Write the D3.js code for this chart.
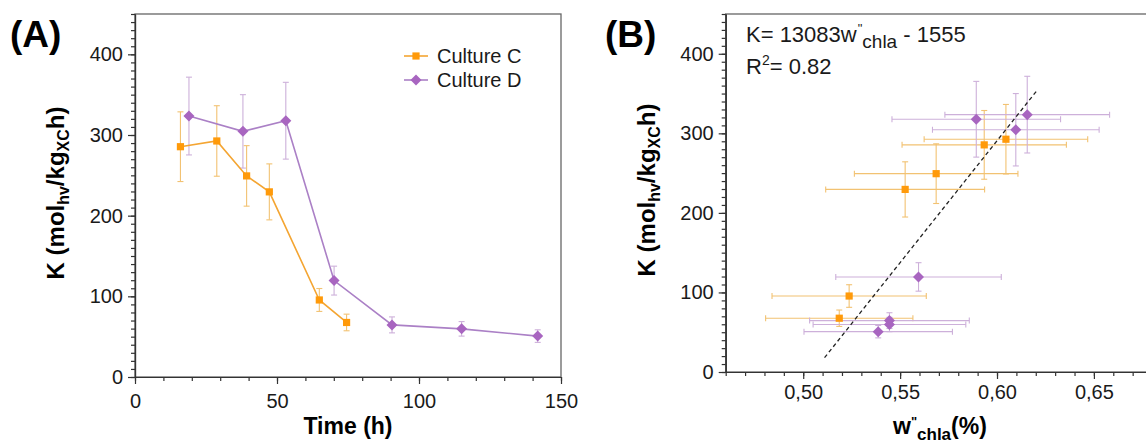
<!DOCTYPE html>
<html>
<head>
<meta charset="utf-8">
<script src="https://cdn.jsdelivr.net/npm/d3@7"></script>
<style>
  html, body { margin: 0; padding: 0; background: #fff; }
  svg { display: block; font-family: "Liberation Sans", Arial, Helvetica, sans-serif; }
</style>
</head>
<body>
<svg id="chart" width="1146" height="444"></svg>
<script>
// ---------------- DATA ----------------
// Panel A: K vs time
const timeC = [16.0, 28.8, 39.3, 47.3, 64.9, 74.5];
const kC    = [285.5, 292.6, 249.3, 229.5, 95.5, 67.6];
const kErrC = [43.2, 43.7, 37.5, 34.7, 14.2, 10.3];

const timeD = [19.0, 38.0, 53.1, 70.1, 90.5, 115.0, 141.8];
const kD    = [323.5, 304.5, 317.7, 119.5, 64.6, 59.7, 50.7];
const kErrD = [48.2, 45.5, 47.6, 17.9, 9.9, 9.0, 7.8];

// Panel B: K vs w''chla (%)
const wC    = [0.5934, 0.6046, 0.5686, 0.5526, 0.5237, 0.5186];
const wErrC = [0.0424, 0.0422, 0.0422, 0.0410, 0.0398, 0.0380];
const wD    = [0.6156, 0.6097, 0.5893, 0.5595, 0.5445, 0.5445, 0.5387];
const wErrD = [0.0425, 0.0430, 0.0435, 0.0427, 0.0412, 0.0394, 0.0383];

// Linear fit line endpoints
const fitW = [0.511, 0.621];
const fitK = [18, 355];

const seriesNames = ["Culture C", "Culture D"];
const xTicksA = [0, 50, 100, 150];
const yTicks  = [0, 100, 200, 300, 400];
const xTicksB = [0.50, 0.55, 0.60, 0.65];

// ---------------- STYLE ----------------
const colC = { marker: "#ff9a0a", line: "#f4a532", err: "#f2c272" };
const colD = { marker: "#a865c0", line: "#ab80c6", err: "#cdb0da" };
const axisColor = "#333";
const frameColor = "#666";

const svg = d3.select("#chart");

function drawAxes(g, x, y, xMajor, xMinor, yMinor, fmt, xPad) {
  const [x0, x1] = x.range();
  const [y0, y1] = y.range();
  g.append("rect").attr("x", x0).attr("y", y1).attr("width", x1 - x0).attr("height", y0 - y1)
    .attr("fill", "none").attr("stroke", frameColor).attr("stroke-width", 1.3);
  const xm = g.append("g").attr("transform", `translate(0,${y0})`)
    .call(d3.axisBottom(x).tickValues(xMinor).tickSize(4).tickSizeOuter(0).tickFormat(""));
  const ym = g.append("g").attr("transform", `translate(${x0},0)`)
    .call(d3.axisLeft(y).tickValues(yMinor).tickSize(4).tickSizeOuter(0).tickFormat(""));
  const xa = g.append("g").attr("transform", `translate(0,${y0})`)
    .call(d3.axisBottom(x).tickValues(xMajor).tickSize(7).tickSizeOuter(0).tickPadding(xPad).tickFormat(fmt));
  const ya = g.append("g").attr("transform", `translate(${x0},0)`)
    .call(d3.axisLeft(y).tickValues(yTicks).tickSize(7).tickSizeOuter(0).tickPadding(5));
  [xm, ym, xa, ya].forEach(a => {
    a.selectAll("path,line").attr("stroke", axisColor).attr("stroke-width", 1.2);
    a.selectAll("text").attr("fill", "#1a1a1a").style("font-size", "20px");
  });
}

const diamond = s => `M0,${-s}L${s},0L0,${s}L${-s},0Z`;
const square = s => `M${-s},${-s}H${s}V${s}H${-s}Z`;

function errY(g, xs, ys, es, x, y, color) {
  xs.forEach((v, i) => {
    const cx = x(v), t = y(ys[i] + es[i]), b = y(ys[i] - es[i]);
    g.append("line").attr("x1", cx).attr("x2", cx).attr("y1", t).attr("y2", b);
    g.append("line").attr("x1", cx - 3).attr("x2", cx + 3).attr("y1", t).attr("y2", t);
    g.append("line").attr("x1", cx - 3).attr("x2", cx + 3).attr("y1", b).attr("y2", b);
  });
  g.attr("stroke", color).attr("stroke-width", 1.1);
}
function errX(g, xs, ys, es, x, y, color) {
  xs.forEach((v, i) => {
    const cy = y(ys[i]), l = x(v - es[i]), r = x(v + es[i]);
    g.append("line").attr("x1", l).attr("x2", r).attr("y1", cy).attr("y2", cy);
    g.append("line").attr("x1", l).attr("x2", l).attr("y1", cy - 3).attr("y2", cy + 3);
    g.append("line").attr("x1", r).attr("x2", r).attr("y1", cy - 3).attr("y2", cy + 3);
  });
  g.attr("stroke", color).attr("stroke-width", 1.1);
}

// ================= PANEL A =================
const xA = d3.scaleLinear().domain([0, 150]).range([135, 561]);
const yA = d3.scaleLinear().domain([0, 450]).range([377, 14]);
const gA = svg.append("g");
drawAxes(gA, xA, yA, xTicksA, d3.range(0, 151, 10), d3.range(0, 451, 10), d3.format("d"), 10);

errY(gA.append("g"), timeC, kC, kErrC, xA, yA, colC.err);
errY(gA.append("g"), timeD, kD, kErrD, xA, yA, colD.err);

const lineA = d3.line().x(d => xA(d[0])).y(d => yA(d[1]));
gA.append("path").datum(timeC.map((t, i) => [t, kC[i]])).attr("d", lineA)
  .attr("fill", "none").attr("stroke", colC.line).attr("stroke-width", 1.6);
gA.append("path").datum(timeD.map((t, i) => [t, kD[i]])).attr("d", lineA)
  .attr("fill", "none").attr("stroke", colD.line).attr("stroke-width", 1.6);

gA.selectAll(".mC").data(timeC).join("path")
  .attr("transform", (t, i) => `translate(${xA(t)},${yA(kC[i])})`).attr("d", square(3.6)).attr("fill", colC.marker);
gA.selectAll(".mD").data(timeD).join("path")
  .attr("transform", (t, i) => `translate(${xA(t)},${yA(kD[i])})`).attr("d", diamond(5.5)).attr("fill", colD.marker);

// legend
const leg = gA.append("g");
[[colC, square(3.6)], [colD, diamond(5.5)]].forEach(([c, shape], i) => {
  const ly = 56 + i * 24;
  leg.append("line").attr("x1", 404).attr("x2", 428).attr("y1", ly).attr("y2", ly)
    .attr("stroke", c.line).attr("stroke-width", 1.6);
  leg.append("path").attr("transform", `translate(416,${ly})`).attr("d", shape).attr("fill", c.marker);
  leg.append("text").attr("x", 437).attr("y", ly + 7).text(seriesNames[i])
    .style("font-size", "20px").attr("fill", "#1a1a1a");
});

// labels
gA.append("text").attr("x", 10).attr("y", 47).text("(A)").style("font-size", "37px").style("font-weight", "bold");
gA.append("text").attr("x", 348).attr("y", 434).attr("text-anchor", "middle").text("Time (h)")
  .style("font-size", "23px").style("font-weight", "bold");

function kLabel(g, tx, ty) {
  const t = g.append("text").attr("transform", `translate(${tx},${ty}) rotate(-90)`)
    .attr("text-anchor", "middle").style("font-size", "24px").style("font-weight", "bold");
  t.append("tspan").text("K (mol");
  t.append("tspan").text("hv").attr("dy", 5).style("font-size", "16px");
  t.append("tspan").text("/kg").attr("dy", -5);
  t.append("tspan").text("XC").attr("dy", 5).style("font-size", "16px");
  t.append("tspan").text("h)").attr("dy", -5);
}
kLabel(gA, 64, 193);

// ================= PANEL B =================
const xB = d3.scaleLinear().domain([0.46, 0.70]).range([725.7, 1190.8]);
const yB = d3.scaleLinear().domain([0, 450]).range([372, 14]);
const gB = svg.append("g");
const fmtB = d => d3.format(".2f")(d).replace(".", ",");
drawAxes(gB, xB, yB, xTicksB, d3.range(46, 71, 1).map(v => v / 100), d3.range(0, 451, 10), fmtB, 6);

errX(gB.append("g"), wC, kC, wErrC, xB, yB, colC.err);
errY(gB.append("g"), wC, kC, kErrC, xB, yB, colC.err);
errX(gB.append("g"), wD, kD, wErrD, xB, yB, colD.err);
errY(gB.append("g"), wD, kD, kErrD, xB, yB, colD.err);

gB.append("line").attr("x1", xB(fitW[0])).attr("y1", yB(fitK[0])).attr("x2", xB(fitW[1])).attr("y2", yB(fitK[1]))
  .attr("stroke", "#222").attr("stroke-width", 1.3).attr("stroke-dasharray", "4,3");

gB.selectAll(".mC").data(wC).join("path")
  .attr("transform", (w, i) => `translate(${xB(w)},${yB(kC[i])})`).attr("d", square(3.6)).attr("fill", colC.marker);
gB.selectAll(".mD").data(wD).join("path")
  .attr("transform", (w, i) => `translate(${xB(w)},${yB(kD[i])})`).attr("d", diamond(5.5)).attr("fill", colD.marker);

gB.append("text").attr("x", 605).attr("y", 47).text("(B)").style("font-size", "37px").style("font-weight", "bold");

// equation
const eq = gB.append("text").attr("x", 746).attr("y", 42).style("font-size", "22px").attr("fill", "#1a1a1a");
eq.append("tspan").text("K= 13083w");
eq.append("tspan").text("\"").attr("dx", 1).attr("dy", -9).style("font-size", "13px");
eq.append("tspan").text("chla").attr("dx", 0).attr("dy", 15).style("font-size", "19px");
eq.append("tspan").text(" - 1555").attr("dy", -6);

const r2 = gB.append("text").attr("x", 746).attr("y", 74).style("font-size", "22px").attr("fill", "#1a1a1a");
r2.append("tspan").text("R");
r2.append("tspan").text("2").attr("dy", -9).style("font-size", "14px");
r2.append("tspan").text("= 0.82").attr("dy", 9);

// x label B
const xl = gB.append("text").attr("x", 893).attr("y", 434).style("font-size", "23px").style("font-weight", "bold");
xl.append("tspan").text("w");
xl.append("tspan").text("\"").attr("dx", 0).attr("dy", -8).style("font-size", "13px");
xl.append("tspan").text("chla").attr("dx", 0).attr("dy", 14).style("font-size", "17px");
xl.append("tspan").text("(%)").attr("dy", -6);

kLabel(gB, 655, 190);
</script>
</body>
</html>
